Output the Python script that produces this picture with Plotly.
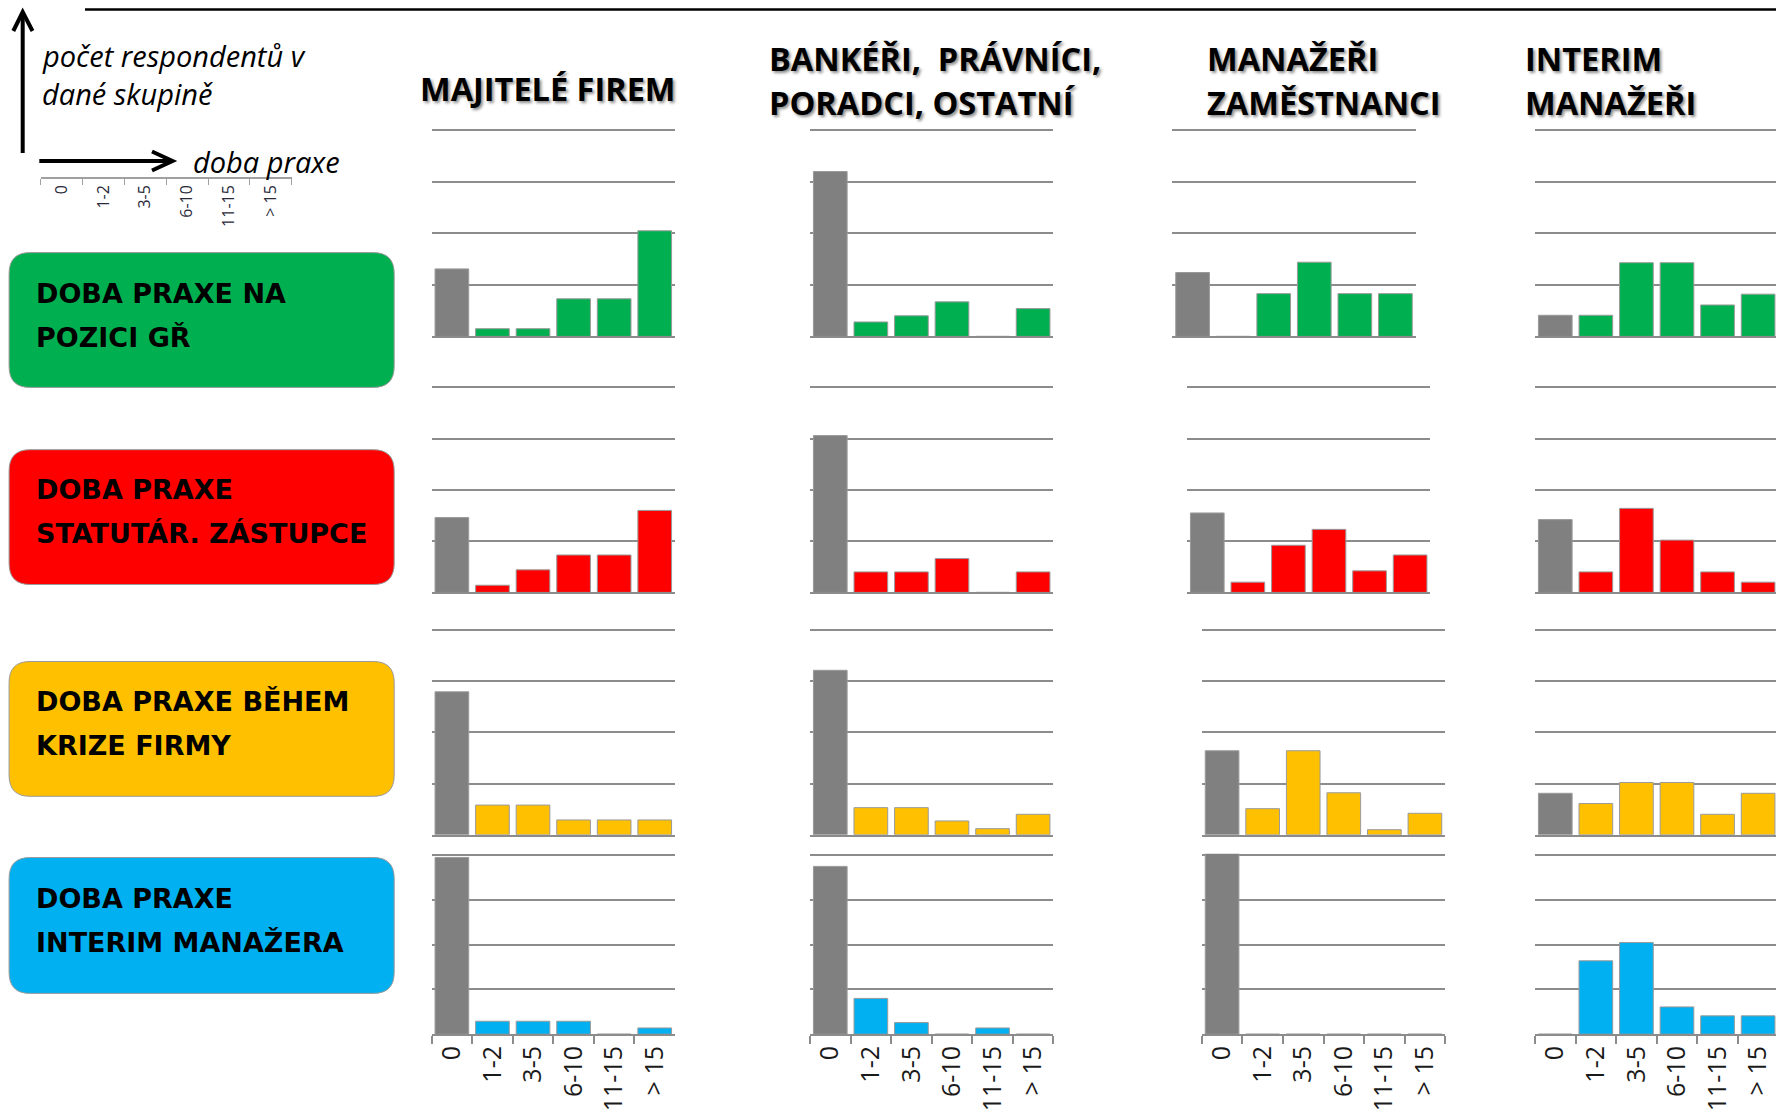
import plotly.graph_objects as go

# ---------------- DATA ----------------
categories = ["0", "1-2", "3-5", "6-10", "11-15", "> 15"]

group_titles = [
    ["MAJITELÉ FIREM"],
    ["BANKÉŘI,\u00a0 PRÁVNÍCI,", "PORADCI, OSTATNÍ"],
    ["MANAŽEŘI", "ZAMĚSTNANCI"],
    ["INTERIM", "MANAŽEŘI"],
]

row_labels = [
    ["DOBA PRAXE NA", "POZICI GŘ"],
    ["DOBA PRAXE", "STATUTÁR. ZÁSTUPCE"],
    ["DOBA PRAXE BĚHEM", "KRIZE FIRMY"],
    ["DOBA PRAXE", "INTERIM MANAŽERA"],
]

# values per group (majitelé, bankéři..., manažeři zam., interim manažeři)
praxe_pozice_gr = [
    [1.31, 0.15, 0.15, 0.73, 0.73, 2.05],
    [3.20, 0.28, 0.40, 0.67, 0.00, 0.54],
    [1.24, 0.00, 0.83, 1.44, 0.83, 0.83],
    [0.41, 0.41, 1.43, 1.43, 0.61, 0.82],
]
praxe_statutar = [
    [1.46, 0.14, 0.44, 0.73, 0.73, 1.60],
    [3.06, 0.40, 0.40, 0.66, 0.00, 0.40],
    [1.55, 0.20, 0.92, 1.23, 0.42, 0.73],
    [1.42, 0.40, 1.64, 1.02, 0.40, 0.20],
]
praxe_krize = [
    [2.79, 0.58, 0.58, 0.29, 0.29, 0.29],
    [3.21, 0.53, 0.53, 0.27, 0.12, 0.40],
    [1.64, 0.51, 1.64, 0.82, 0.10, 0.42],
    [0.81, 0.61, 1.02, 1.02, 0.40, 0.81],
]
praxe_interim = [
    [3.95, 0.29, 0.29, 0.29, 0.00, 0.14],
    [3.75, 0.80, 0.26, 0.00, 0.14, 0.00],
    [4.60, 0.00, 0.00, 0.00, 0.00, 0.00],
    [0.00, 1.64, 2.05, 0.61, 0.41, 0.41],
]
rows_data = [praxe_pozice_gr, praxe_statutar, praxe_krize, praxe_interim]

# ---------------- STYLE / GEOMETRY ----------------
W, H = 1776, 1114
row_colors = ["#00B050", "#FF0000", "#FFC000", "#00B0F0"]
zero_color = "#808080"
grid_color = "#8c8c8c"

row_top = [130.3, 387.4, 629.8, 855.2]
row_bottom = [336.4, 592.4, 834.8, 1034.2]
col_left = [
    [431.6, 810.0, 1172.3, 1535.0],
    [431.6, 810.0, 1187.0, 1535.0],
    [431.6, 810.0, 1201.8, 1535.0],
    [431.6, 810.0, 1201.8, 1535.0],
]
panel_w = 243.4
cat_w = panel_w / 6
Y_MAX = 4.0
Y_PAD = 0.03  # small headroom so the top gridline is drawn


def px(x):
    return x / W


def py(y):
    return 1 - y / H


fig = go.Figure()
layout_axes = {}

for r in range(4):
    interval = (row_bottom[r] - row_top[r]) / Y_MAX
    top_px = row_top[r] - Y_PAD * interval
    for c in range(4):
        k = r * 4 + c + 1
        vals = rows_data[r][c]
        fig.add_trace(go.Bar(
            x=categories, y=vals,
            xaxis=f"x{k}", yaxis=f"y{k}",
            marker=dict(color=[zero_color] + [row_colors[r]] * 5,
                        line=dict(color="#9a9a9a", width=1)),
            showlegend=False, hoverinfo="x+y",
        ))
        left = col_left[r][c]
        right = min(left + panel_w, W)
        rng_end = -0.5 + (right - left) / cat_w
        last = (r == 3)
        layout_axes[f"xaxis{k}"] = dict(
            domain=[px(left), px(right)], anchor=f"y{k}", type="category",
            range=[-0.5, rng_end], showgrid=False, zeroline=False,
            showline=True, linecolor=grid_color, linewidth=1.6,
            ticks="outside" if last else "", tickson="boundaries",
            ticklen=8, tickwidth=1.5, tickcolor=grid_color,
            showticklabels=last, tickangle=-90,
            tickfont=dict(family="Open Sans", size=25, color="#1a1a1a"),
            fixedrange=True,
        )
        layout_axes[f"yaxis{k}"] = dict(
            domain=[py(row_bottom[r]), py(top_px)], anchor=f"x{k}",
            range=[0, Y_MAX + Y_PAD], dtick=1, tick0=0, showgrid=True,
            gridcolor=grid_color, gridwidth=1.6, zeroline=False,
            showline=False, showticklabels=False, ticks="", fixedrange=True,
        )

# mini axis legend in the top-left corner
fig.add_trace(go.Bar(
    x=categories, y=[0] * 6, xaxis="x17", yaxis="y17",
    marker=dict(color="rgba(0,0,0,0)", line=dict(width=0)),
    showlegend=False, hoverinfo="skip",
))
layout_axes["xaxis17"] = dict(
    domain=[px(40.7), px(291.7)], anchor="y17", type="category",
    range=[-0.5, 5.5], showgrid=False, zeroline=False, showline=True,
    linecolor="#a0a0a0", linewidth=1.5, ticks="outside", tickson="boundaries",
    ticklen=6, tickwidth=1.2, tickcolor="#a0a0a0", tickangle=-90,
    tickfont=dict(family="Open Sans", size=16, color="#2a2a3a"), fixedrange=True,
)
layout_axes["yaxis17"] = dict(
    domain=[py(177), py(165)], anchor="x17", range=[0, 1], visible=False,
    fixedrange=True,
)

shapes = []


def rounded_rect(x0, y0, x1, y1, rad):
    pts = [
        ("M", [(x0 + rad, y0)]), ("L", [(x1 - rad, y0)]),
        ("Q", [(x1, y0), (x1, y0 + rad)]), ("L", [(x1, y1 - rad)]),
        ("Q", [(x1, y1), (x1 - rad, y1)]), ("L", [(x0 + rad, y1)]),
        ("Q", [(x0, y1), (x0, y1 - rad)]), ("L", [(x0, y0 + rad)]),
        ("Q", [(x0, y0), (x0 + rad, y0)]),
    ]
    s = ""
    for cmd, pp in pts:
        s += cmd + " " + " ".join(f"{px(a):.5f},{py(b):.5f}" for a, b in pp) + " "
    return s + "Z"


box_y = [(252.6, 387.4), (449.7, 584.5), (661.5, 796.3), (857.5, 993.4)]
for r in range(4):
    shapes.append(dict(
        type="path", xref="paper", yref="paper",
        path=rounded_rect(9.1, box_y[r][0], 394.2, box_y[r][1], 21),
        fillcolor=row_colors[r], line=dict(color="#9a9a9a", width=1), layer="below",
    ))


def polyline(points):
    return "M " + " L ".join(f"{px(a):.5f},{py(b):.5f}" for a, b in points)


arrow_style = dict(type="path", xref="paper", yref="paper",
                   line=dict(color="black", width=4), fillcolor="rgba(0,0,0,0)")
shapes.append(dict(arrow_style, path=polyline([(22.7, 153), (22.7, 13)])))
shapes.append(dict(arrow_style, path=polyline([(13.3, 31), (22.7, 12), (32.5, 31)])))
shapes.append(dict(arrow_style, path=polyline([(39.3, 161), (171, 161)])))
shapes.append(dict(arrow_style, path=polyline([(152, 151.5), (172.5, 161), (152, 170.5)])))
shapes.append(dict(type="line", xref="paper", yref="paper",
                   x0=px(85), x1=1, y0=py(9.5), y1=py(9.5),
                   line=dict(color="black", width=2.5)))

annotations = []
head_font = dict(family="Open Sans", size=32.5, color="black", weight="bold",
                 shadow="2px 2px 3px rgba(0,0,0,0.45)")
head_pos = [(418.0, [88.4]), (767.0, [59.0, 103.0]), (1204.5, [59.0, 103.0]),
            (1522.8, [59.0, 103.0])]
for c in range(4):
    x0, ys = head_pos[c]
    for line, yy in zip(group_titles[c], ys):
        annotations.append(dict(text=line, x=px(x0), y=py(yy), xref="paper",
                                yref="paper", xanchor="left", yanchor="middle",
                                showarrow=False, font=head_font))

box_font = dict(family="DejaVu Sans", size=27, color="black", weight="bold")
box_text_y = [(293.4, 337.5), (489.3, 533.5), (701.1, 745.3), (898.2, 942.4)]
for r in range(4):
    for line, yy in zip(row_labels[r], box_text_y[r]):
        annotations.append(dict(text=line, x=px(34), y=py(yy), xref="paper",
                                yref="paper", xanchor="left", yanchor="middle",
                                showarrow=False, font=box_font))

it_font = dict(family="Open Sans", size=29, color="black", style="italic")
for txt, xx, yy in [("počet respondentů v", 40, 55.5), ("dané skupině", 40, 93),
                    ("doba praxe", 191, 161.5)]:
    annotations.append(dict(text=txt, x=px(xx), y=py(yy), xref="paper",
                            yref="paper", xanchor="left", yanchor="middle",
                            showarrow=False, font=it_font))

fig.update_layout(
    width=W, height=H, autosize=False,
    margin=dict(l=0, r=0, t=0, b=0, pad=0),
    paper_bgcolor="white", plot_bgcolor="rgba(0,0,0,0)",
    bargap=0.17, shapes=shapes, annotations=annotations,
    **layout_axes,
)

fig.write_html("out.html", config={"displayModeBar": False},
               post_script="document.body.style.margin='0px';document.body.style.overflow='hidden';")
